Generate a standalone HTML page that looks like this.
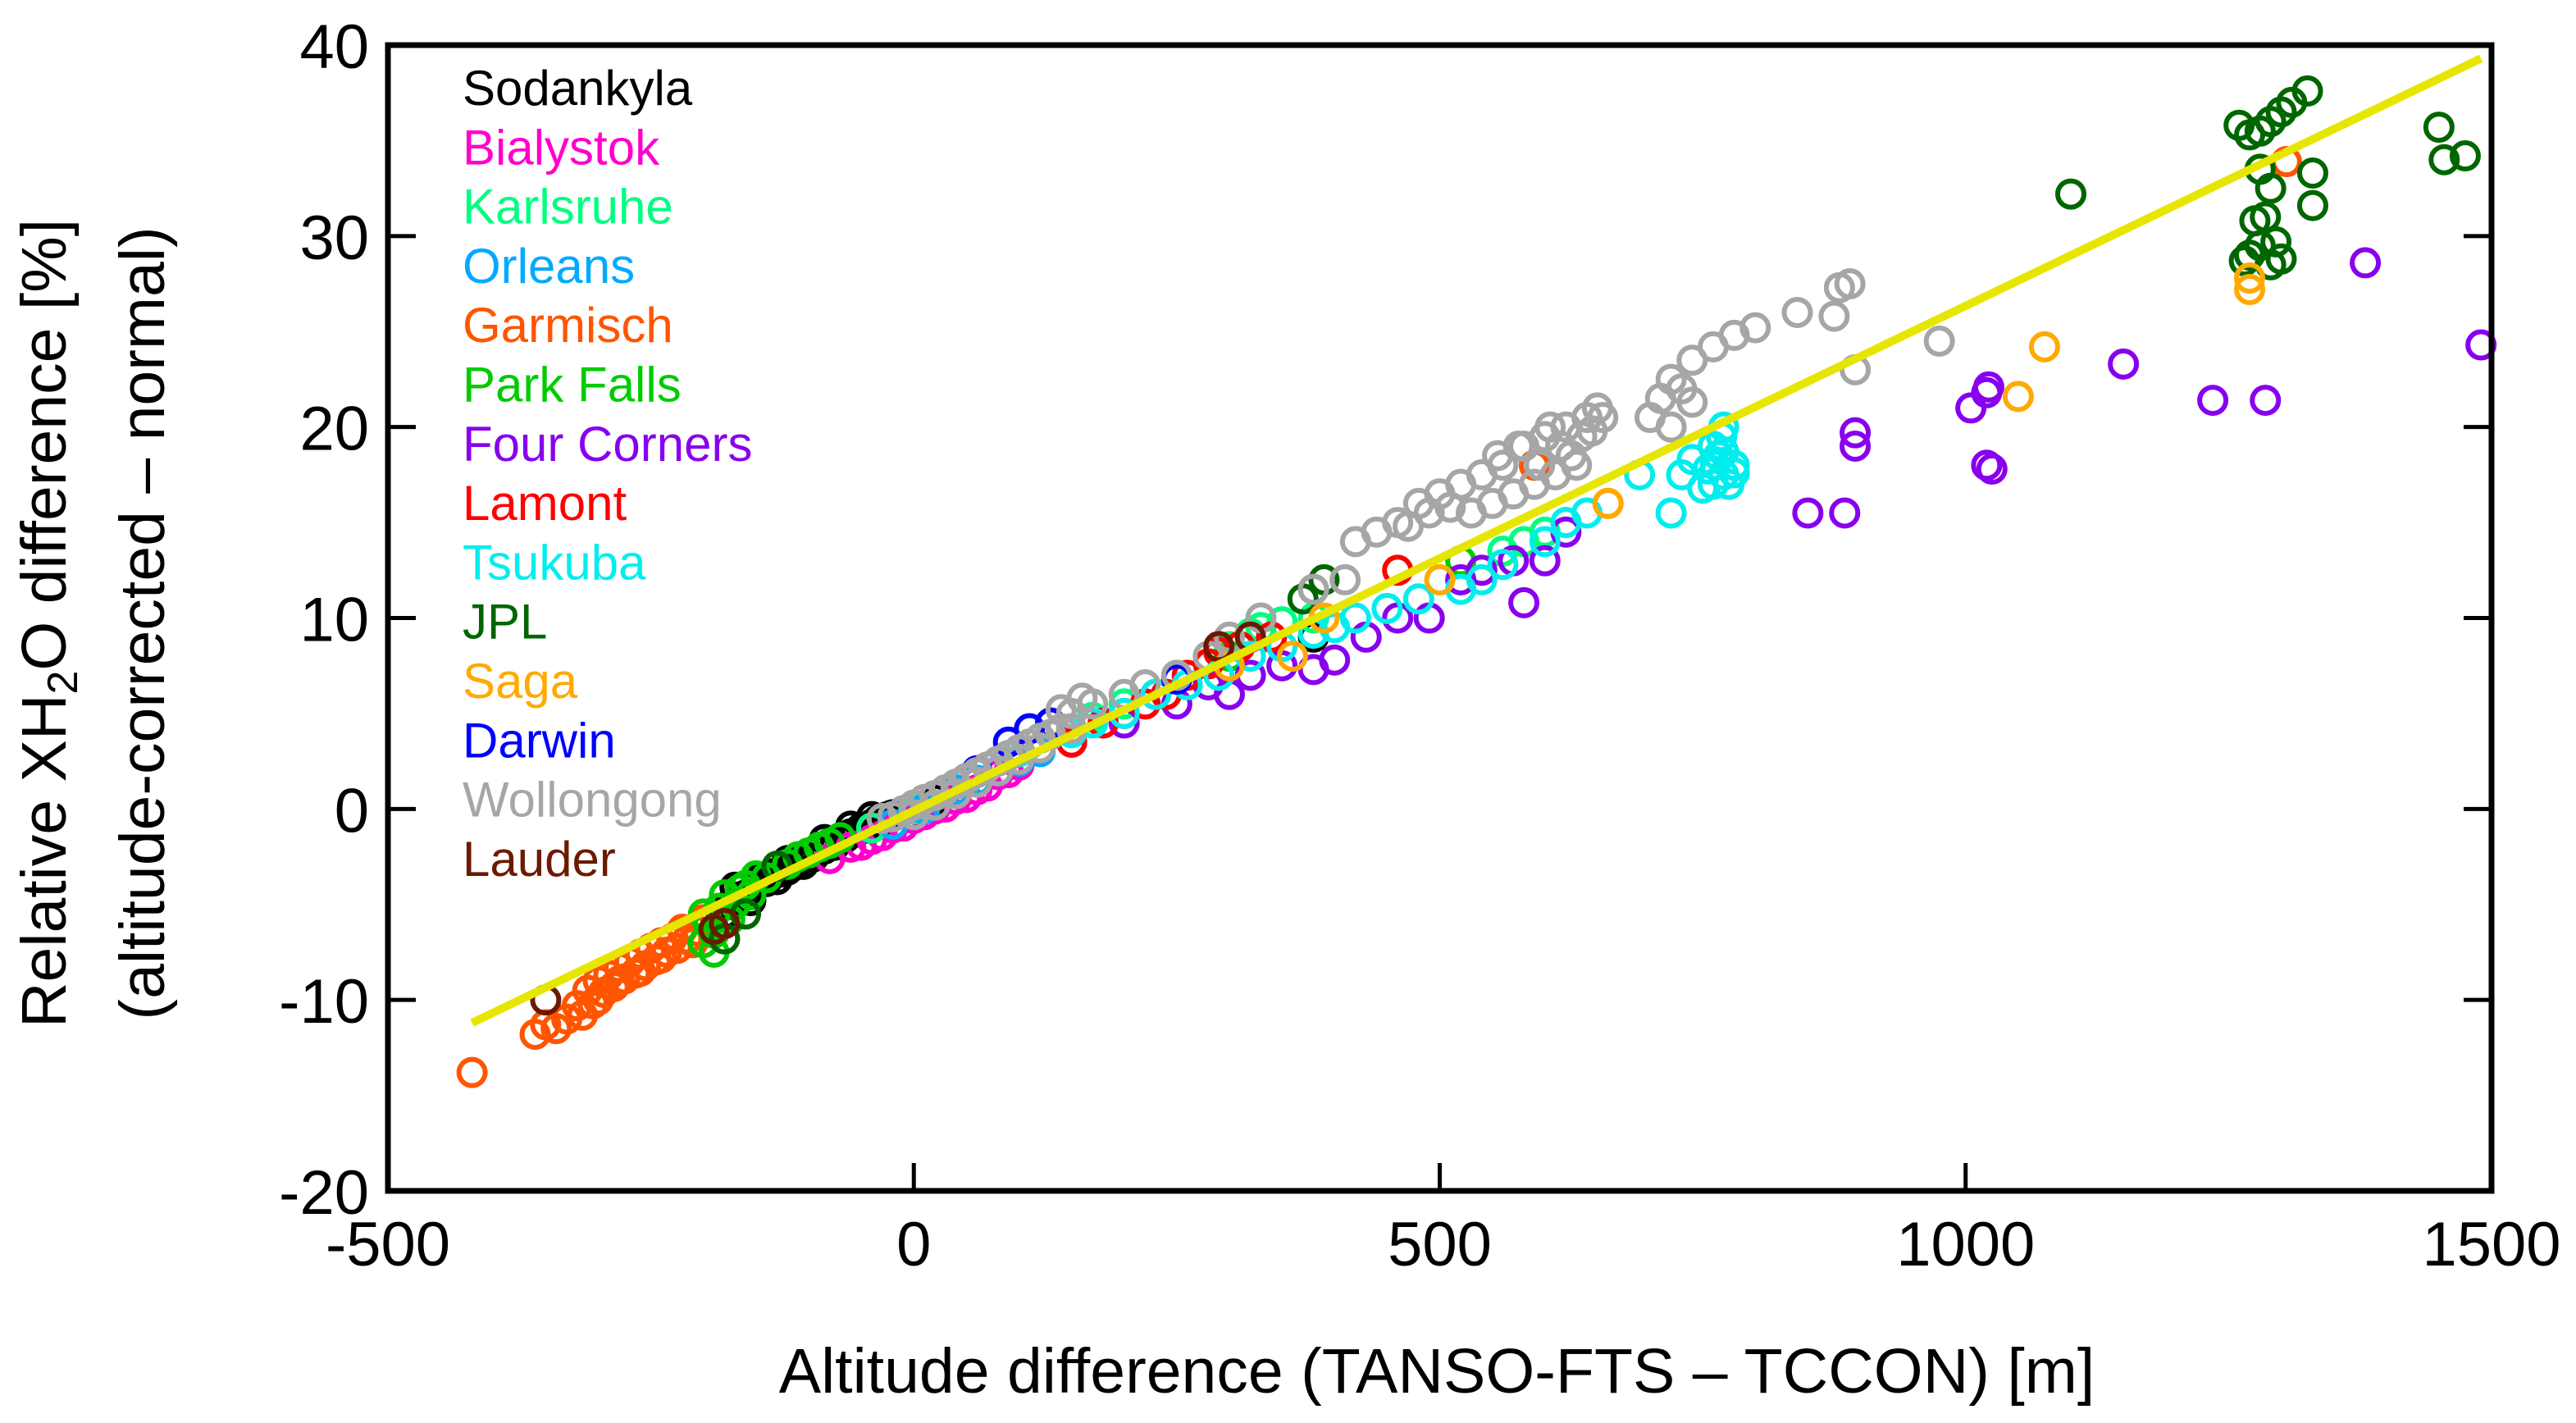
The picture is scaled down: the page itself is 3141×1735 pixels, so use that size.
<!DOCTYPE html>
<html><head><meta charset="utf-8"><style>
html,body{margin:0;padding:0;background:#fff;}
svg{display:block;font-family:"Liberation Sans",Arial,sans-serif;}
</style></head><body>
<svg id="chart" width="3141" height="1735" viewBox="0 0 3141 1735" xmlns="http://www.w3.org/2000/svg">
<g id="marks"></g>
<rect x="473" y="55" width="2565" height="1397" fill="none" stroke="#000" stroke-width="7"/>
<g id="axes"></g>
<g id="legend"></g>
<text x="1752" y="1698" font-size="77" text-anchor="middle">Altitude difference (TANSO-FTS – TCCON) [m]</text>
<text transform="translate(80,760) rotate(-90)" font-size="77" text-anchor="middle">Relative XH<tspan font-size="52" dy="14">2</tspan><tspan dy="-14">O difference [%]</tspan></text>
<text transform="translate(200,760) rotate(-90)" font-size="77" text-anchor="middle">(altitude-corrected – normal)</text>
</svg>
<script>
const xTicks=[-500,0,500,1000,1500];
const yTicks=[-20,-10,0,10,20,30,40];
const siteNames=["Sodankyla","Bialystok","Karlsruhe","Orleans","Garmisch","Park Falls","Four Corners","Lamont","Tsukuba","JPL","Saga","Darwin","Wollongong","Lauder"];
const siteColors=["#000000","#ff00cc","#00ff80","#00aaff","#ff5500","#00cc00","#8800ee","#ff0000","#00eeee","#006600","#ffaa00","#0000ff","#a6a6a6","#6b1a00"];
const fitLine=[[-420,-11.2],[1490,39.3]];
const sodankyla=[[-180,-5.5],[-175,-5],[-170,-4.1],[-165,-4.6],[-160,-4.5],[-155,-4.8],[-150,-4],[-145,-3.6],[-140,-3.8],[-135,-3.4],[-130,-3.7],[-125,-3.3],[-120,-3.2],[-115,-3],[-110,-2.8],[-105,-2.9],[-100,-2.5],[-95,-2.5],[-90,-2.2],[-85,-2.1],[-80,-1.8],[-75,-1.9],[-70,-1.6],[-65,-1.5],[-60,-1.3],[-55,-1.2],[-50,-1],[-45,-1],[-40,-0.8],[-35,-0.6],[-30,-0.6],[-25,-0.4],[-20,-0.3],[-10,-0.1],[0,0],[20,0.5],[-85,-1.6],[-60,-0.9],[-40,-0.4],[-120,-2.7],[380,9]];
const bialystok=[[-80,-2.6],[-60,-2],[-50,-1.9],[-40,-1.6],[-30,-1.4],[-20,-1],[-10,-0.9],[0,-0.5],[10,-0.3],[20,0],[30,0.1],[40,0.5],[50,0.6],[60,1],[70,1.2],[80,1.8],[90,1.9],[100,2.3]];
const karlsruhe=[[-40,-1],[0,0],[50,1.5],[100,3],[150,4.2],[170,4.8],[200,5.5],[250,7],[300,8.5],[320,9.2],[330,9.5],[350,9.8],[380,10],[560,13.5],[580,14],[600,14.5],[620,15]];
const orleans=[[-20,-0.8],[10,0],[40,1],[60,1.5],[80,2],[100,2.5],[120,3],[240,6]];
const garmisch=[[-420,-13.8],[-360,-11.8],[-350,-11.3],[-340,-11.5],[-330,-11],[-320,-10.3],[-315,-10.8],[-310,-9.5],[-305,-10.2],[-300,-9],[-300,-10],[-295,-9.6],[-290,-8.7],[-285,-9.3],[-280,-8.3],[-280,-9],[-275,-8.9],[-270,-8],[-265,-8.6],[-260,-7.6],[-260,-8.5],[-255,-8.2],[-250,-7.3],[-245,-7.9],[-240,-7],[-240,-7.8],[-235,-7.5],[-230,-6.8],[-225,-7.3],[-220,-6.3],[-215,-6.8],[-210,-7],[-200,-5.8],[-205,-6.4],[590,18],[660,16],[1305,33.9]];
const parkFalls=[[-200,-5.5],[-200,-7],[-195,-6],[-190,-6.5],[-190,-7.5],[-185,-5.2],[-180,-4.5],[-180,-6.8],[-175,-5.8],[-170,-5],[-165,-4.2],[-160,-4],[-155,-4.5],[-150,-3.5],[-140,-3.6],[-130,-3],[-120,-2.9],[-110,-2.5],[-100,-2.3],[-90,-2],[-80,-1.8],[-70,-1.5],[150,4],[300,8],[520,13]];
const fourCorners=[[150,3.5],[200,4.5],[230,6],[250,5.5],[280,6.5],[300,6],[320,7],[350,7.5],[380,7.3],[400,7.8],[430,9],[460,10],[490,10],[520,12],[540,12.5],[570,13],[580,10.8],[600,13],[620,14.5],[850,15.5],[885,15.5],[895,19],[895,19.7],[1005,21],[1020,21.8],[1022,22.1],[1020,18],[1025,17.8],[1150,23.3],[1235,21.4],[1285,21.4],[1380,28.6],[1490,24.3]];
const lamont=[[150,3.5],[180,4.5],[200,5],[220,5.5],[240,6],[260,7],[280,7.6],[290,8.2],[310,8.5],[340,9],[460,12.5]];
const tsukuba=[[60,2],[100,3],[150,4],[170,4.5],[200,5],[230,6],[260,6.5],[290,7],[320,8],[350,8.5],[380,9.2],[400,9.5],[420,10],[450,10.5],[480,11],[520,11.5],[540,12],[560,12.8],[600,14],[620,15],[640,15.5],[690,17.5],[720,15.5],[730,17.5],[740,18.3],[750,16.8],[755,17.8],[760,17],[760,19],[762,18],[765,18.5],[768,19.5],[770,17.5],[770,18.7],[770,20],[775,17],[780,18],[780,17.6]];
const jpl=[[-180,-6.8],[-160,-5.5],[-130,-3],[370,11],[380,11.5],[390,12],[1100,32.2],[1260,35.8],[1270,35.3],[1280,35.5],[1290,36],[1300,36.5],[1310,37],[1325,37.6],[1290,32.5],[1285,31],[1275,30.8],[1270,29],[1265,28.7],[1280,29.5],[1295,29.7],[1300,28.8],[1290,28.5],[1330,33.3],[1330,31.6],[1450,35.7],[1455,34],[1475,34.2],[1280,33.5]];
const saga=[[300,7.5],[360,8],[390,10],[500,12],[660,16],[1050,21.6],[1075,24.2],[1270,27.2],[1270,27.8]];
const darwin=[[60,2],[90,3.5],[110,4.2],[130,4.5],[250,6.8]];
const wollongong=[[-30,-0.5],[-20,-0.4],[-10,-0.1],[0,0.2],[10,0.5],[20,0.7],[30,1],[40,1.3],[50,1.6],[60,1.9],[70,2.2],[80,2.5],[90,2.8],[100,3.1],[110,3.4],[120,3.7],[130,3.9],[140,4.2],[150,4.2],[0,-0.3],[20,0.2],[40,0.8],[60,1.4],[80,2],[100,2.6],[120,3.2],[140,5.2],[150,5],[160,5.8],[170,5.5],[200,6],[220,6.5],[250,7],[280,8],[300,9],[330,10],[380,11.5],[410,12],[420,14],[440,14.5],[460,15],[470,14.8],[480,16],[490,15.5],[500,16.5],[510,15.8],[520,17],[530,15.5],[540,17.5],[550,16],[555,18.5],[560,18],[570,16.5],[575,19],[580,19],[590,17],[595,18],[600,19.5],[605,20],[610,17.5],[615,19],[620,20],[625,18.5],[630,18],[635,19.5],[640,20.5],[645,19.8],[650,21],[655,20.5],[700,20.5],[710,21.5],[720,22.5],[730,22],[740,23.5],[760,24.2],[780,24.8],[800,25.2],[840,26],[880,27.3],[890,27.5],[875,25.8],[895,23],[975,24.5],[740,21.3],[720,20]];
const lauder=[[-350,-10],[-190,-6.3],[-180,-6],[290,8.5],[320,9]];
const siteData=[sodankyla,bialystok,karlsruhe,orleans,garmisch,parkFalls,fourCorners,lamont,tsukuba,jpl,saga,darwin,wollongong,lauder];

const X0=473,X1=3038,Y0=55,Y1=1452;
const xs=v=>X0+(v-(-500))/2000*(X1-X0);
const ys=v=>Y1-(v-(-20))/60*(Y1-Y0);
const NS="http://www.w3.org/2000/svg";
function mk(tag,attrs,parent){const e=document.createElementNS(NS,tag);for(const k in attrs)e.setAttribute(k,attrs[k]);parent.appendChild(e);return e;}
const marks=document.getElementById('marks');
siteData.forEach((arr,si)=>{
  const g=mk('g',{},marks);
  
  
  arr.forEach(p=>{
    const c=mk('circle',{cx:xs(p[0]),cy:ys(p[1]),r:16,fill:'none',stroke:siteColors[si],'stroke-width':6},g);
    
    
  });
});
const fl=mk('line',{x1:xs(fitLine[0][0]),y1:ys(fitLine[0][1]),x2:xs(fitLine[1][0]),y2:ys(fitLine[1][1]),stroke:'#e6e600','stroke-width':10},marks);


const axes=document.getElementById('axes');
xTicks.forEach(v=>{
  const l=mk('line',{x1:xs(v),x2:xs(v),y1:Y1,y2:Y1-34,stroke:'#000','stroke-width':5},axes);
  
  
  const t=mk('text',{x:xs(v),y:1543,'font-size':76,'text-anchor':'middle'},axes);
  t.textContent=v;
  
  
});
yTicks.forEach(v=>{
  const l=mk('line',{x1:X0,x2:X0+34,y1:ys(v),y2:ys(v),stroke:'#000','stroke-width':5},axes);
  
  
  const l2=mk('line',{x1:X1,x2:X1-34,y1:ys(v),y2:ys(v),stroke:'#000','stroke-width':5},axes);
  
  
  const t=mk('text',{x:450,y:ys(v)+28,'font-size':76,'text-anchor':'end'},axes);
  t.textContent=v;
  
  
});
const leg=document.getElementById('legend');
siteNames.forEach((n,i)=>{
  const t=mk('text',{x:564,y:128+i*72.3,'font-size':60,fill:siteColors[i]},leg);
  t.textContent=n;
  
  
});
</script>
</body></html>
